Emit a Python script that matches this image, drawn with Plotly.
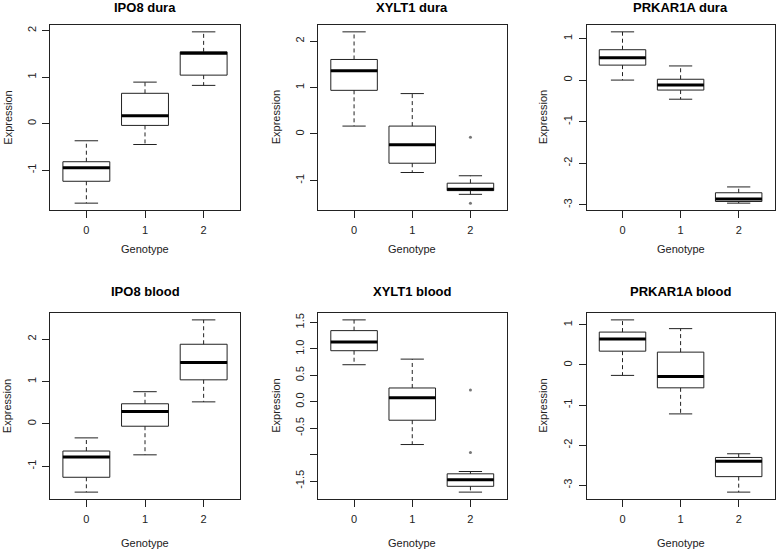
import plotly.graph_objects as go

# ---------------- data ----------------
genotypes = ["0", "1", "2"]
panel_titles = ["IPO8 dura", "XYLT1 dura", "PRKAR1A dura",
                "IPO8 blood", "XYLT1 blood", "PRKAR1A blood"]

# one row per panel, one value per genotype
whisker_low = [
    [-1.71, -0.45, 0.82],
    [0.17, -0.83, -1.30],
    [0.00, -0.46, -2.96],
    [-1.61, -0.73, 0.52],
    [0.70, -0.81, -1.71],
    [-0.26, -1.22, -3.17],
]
q1 = [
    [-1.24, -0.04, 1.04],
    [0.94, -0.63, -1.22],
    [0.36, -0.24, -2.92],
    [-1.26, -0.055, 1.04],
    [0.965, -0.35, -1.60],
    [0.344, -0.57, -2.784],
]
median = [
    [-0.95, 0.17, 1.51],
    [1.36, -0.23, -1.19],
    [0.54, -0.12, -2.86],
    [-0.78, 0.29, 1.45],
    [1.13, 0.076, -1.478],
    [0.646, -0.285, -2.40],
]
q3 = [
    [-0.82, 0.65, 1.54],
    [1.605, 0.17, -1.06],
    [0.73, 0.02, -2.71],
    [-0.64, 0.475, 1.88],
    [1.345, 0.26, -1.364],
    [0.82, 0.32, -2.306],
]
whisker_high = [
    [-0.37, 0.89, 1.97],
    [2.20, 0.87, -0.90],
    [1.16, 0.34, -2.57],
    [-0.33, 0.76, 2.455],
    [1.548, 0.806, -1.32],
    [1.124, 0.906, -2.214],
]
# outliers: (panel index, genotype index, value)
outlier_panel = [1, 1, 4, 4]
outlier_geno = [2, 2, 2, 2]
outlier_value = [-0.07, -1.49, 0.22, -0.96]

ytick_vals = [
    [-1, 0, 1, 2],
    [-1, 0, 1, 2],
    [-3, -2, -1, 0, 1],
    [-1, 0, 1, 2],
    [-1.5, -1.0, -0.5, 0.0, 0.5, 1.0, 1.5],
    [-3, -2, -1, 0, 1],
]
ytick_text = [
    ["-1", "0", "1", "2"],
    ["-1", "0", "1", "2"],
    ["-3", "-2", "-1", "0", "1"],
    ["-1", "0", "1", "2"],
    ["-1.5", "", "-0.5", "0.0", "0.5", "1.0", "1.5"],
    ["-3", "-2", "-1", "0", "1"],
]

# ---------------- layout geometry (pixels) ----------------
W, H = 778, 551
frame_x = [(50, 240), (318, 506.5), (586.5, 774.7)]
frame_y = [(25, 210), (313, 499)]
ylab_x = [7.2, 275.8, 542.8]
title_y = [7.5, 291]
xlab_y = [249, 542.5]

INK = "#222222"
FONT = "Liberation Sans, Arial, sans-serif"

fig = go.Figure()
annotations = []
positions = [i + 1 for i in range(len(genotypes))]
BW = 0.8

for p in range(6):
    row, col = divmod(p, 3)
    n = p + 1
    xa = "x" if n == 1 else f"x{n}"
    ya = "y" if n == 1 else f"y{n}"

    for g, pos in enumerate(positions):
        lo, a, m, b, hi = (whisker_low[p][g], q1[p][g], median[p][g],
                           q3[p][g], whisker_high[p][g])
        # box body
        fig.add_trace(go.Box(
            x=[pos], q1=[a], median=[m], q3=[b], lowerfence=[a], upperfence=[b],
            width=BW, whiskerwidth=0, fillcolor="white",
            line=dict(color=INK, width=1), boxpoints=False,
            xaxis=xa, yaxis=ya, hoverinfo="skip"))
        # dashed whiskers
        fig.add_trace(go.Scatter(
            x=[pos, pos, None, pos, pos], y=[b, hi, None, a, lo],
            mode="lines", line=dict(color=INK, width=1, dash="4px,3px"),
            xaxis=xa, yaxis=ya, hoverinfo="skip"))
        # staples
        fig.add_trace(go.Scatter(
            x=[pos - BW / 4, pos + BW / 4, None, pos - BW / 4, pos + BW / 4],
            y=[hi, hi, None, lo, lo],
            mode="lines", line=dict(color=INK, width=1),
            xaxis=xa, yaxis=ya, hoverinfo="skip"))
        # thick median
        fig.add_trace(go.Scatter(
            x=[pos - BW / 2, pos + BW / 2], y=[m, m],
            mode="lines", line=dict(color="black", width=3),
            xaxis=xa, yaxis=ya, hoverinfo="skip"))

    # outliers
    ox = [positions[g] for pp, g in zip(outlier_panel, outlier_geno) if pp == p]
    oy = [v for pp, v in zip(outlier_panel, outlier_value) if pp == p]
    if ox:
        fig.add_trace(go.Scatter(
            x=ox, y=oy, mode="markers",
            marker=dict(symbol="circle", size=3, color="#777777"),
            xaxis=xa, yaxis=ya, hoverinfo="skip"))

    ys = whisker_low[p] + whisker_high[p] + oy
    ymin, ymax = min(ys), max(ys)
    pad = 0.04 * (ymax - ymin)

    x0, x1 = frame_x[col]
    y0, y1 = frame_y[row]
    axis_common = dict(showline=True, mirror=True, linecolor=INK, linewidth=1,
                       ticks="outside", ticklen=7, tickwidth=1, tickcolor=INK,
                       showgrid=False, zeroline=False, fixedrange=True,
                       tickfont=dict(family=FONT, size=11, color=INK))
    fig.layout[f"xaxis{'' if n == 1 else n}"] = dict(
        domain=[x0 / W, x1 / W], range=[0.38, 3.62],
        tickvals=positions, ticktext=genotypes, anchor=ya,
        ticklabelstandoff=3, **axis_common)
    fig.layout[f"yaxis{'' if n == 1 else n}"] = dict(
        domain=[1 - y1 / H, 1 - y0 / H], range=[ymin - pad, ymax + pad],
        tickvals=ytick_vals[p], ticktext=ytick_text[p], tickangle=-90,
        anchor=xa, ticklabelstandoff=2, **axis_common)

    cx = (x0 + x1) / 2
    cy = (y0 + y1) / 2
    annotations.append(dict(text=f"<b>{panel_titles[p]}</b>", x=cx / W, y=1 - title_y[row] / H,
                            xref="paper", yref="paper", showarrow=False,
                            xanchor="center", yanchor="middle",
                            font=dict(family=FONT, size=13, color="black")))
    annotations.append(dict(text="Genotype", x=cx / W, y=1 - xlab_y[row] / H,
                            xref="paper", yref="paper", showarrow=False,
                            xanchor="center", yanchor="middle",
                            font=dict(family=FONT, size=11, color=INK)))
    annotations.append(dict(text="Expression", x=ylab_x[col] / W, y=1 - cy / H,
                            xref="paper", yref="paper", showarrow=False,
                            textangle=-90, xanchor="center", yanchor="middle",
                            font=dict(family=FONT, size=11, color=INK)))

fig.update_layout(width=W, height=H, margin=dict(l=0, r=0, t=0, b=0),
                  paper_bgcolor="white", plot_bgcolor="white",
                  showlegend=False, annotations=annotations)

fig.write_html("out.html", config={"displayModeBar": False},
               post_script="document.body.style.margin='0';document.body.style.overflow='hidden';")
